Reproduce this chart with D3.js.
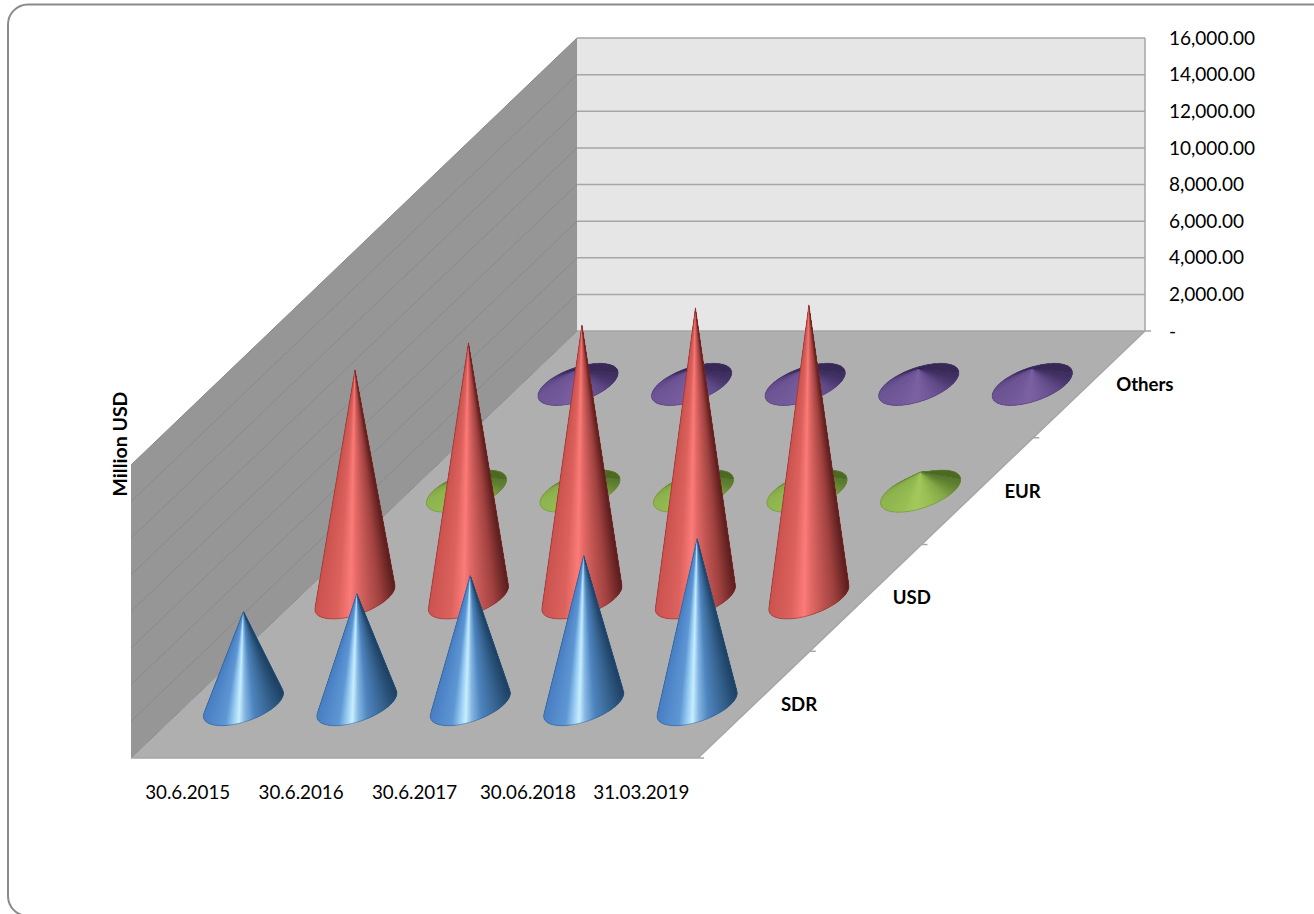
<!DOCTYPE html>
<html>
<head>
<meta charset="utf-8">
<script src="https://cdn.jsdelivr.net/npm/d3@7"></script>
<style>
  html, body { margin: 0; padding: 0; background: #fff; }
  svg { display: block; }
  text { font-family: Lato, "Open Sans", sans-serif; fill: #000; }
</style>
</head>
<body>
<div id="chart"></div>
<script>
// values, Million USD
var dates = ['30.6.2015', '30.6.2016', '30.6.2017', '30.06.2018', '31.03.2019'];
var seriesNames = ['SDR', 'USD', 'EUR', 'Others'];
var sdrValues = [5080, 6060, 7050, 8140, 9070];
var usdValues = [12450, 13930, 14900, 15840, 16000];
var eurValues = [800, 850, 900, 950, 1040];
var othersValues = [800, 820, 840, 860, 870];
var valueTicks = [0, 2000, 4000, 6000, 8000, 10000, 12000, 14000, 16000];

var seriesValues = { SDR: sdrValues, USD: usdValues, EUR: eurValues, Others: othersValues };

// colours across the front of a cone, left to right, and the dark back of the base
var rampStops = [0, 0.27, 0.37, 0.44, 0.52, 0.64, 0.82, 1];
var ramps = {
  SDR: ['#4a80c4', '#5f97d4', '#98cdf2', '#c8eeff', '#84b6e2', '#4f85bf', '#386693', '#1f4365'],
  USD: ['#cc5450', '#db625e', '#ef716e', '#fb7c7a', '#e56a67', '#c75a57', '#a04240', '#5c1f1e'],
  EUR: ['#8fb54f', '#99bf55', '#a0c65a', '#a3c95c', '#9fc55a', '#97bd53', '#84a848', '#5a7a2e'],
  Others: ['#6e5695', '#755c9c', '#7a5fa0', '#7c61a2', '#7a5fa0', '#71599a', '#614a88', '#3f2f60']
};
var backColors = { SDR: '#1f4365', USD: '#5c1f1e', EUR: '#4d6b25', Others: '#3a2b58' };
var lines = { SDR: '#2c5a8c', USD: '#8c2d2b', EUR: '#6b8a38', Others: '#4f3d75' };

var width = 1314, height = 914;
var floorLeft = 131, floorFront = 758, floorBack = 331, wallTop = 38;
var depthShift = 446, frontWidth = 567, backWidth = 568;

var svg = d3.select('#chart').append('svg')
  .attr('width', width)
  .attr('height', height);

var xScale = d3.scaleBand().domain(dates).range([0, 1]);
var depthScale = d3.scaleBand().domain(seriesNames).range([0, 1]);
var yScale = d3.scaleLinear().domain([0, 16000]).range([0, floorBack - wallTop]);

// oblique projection: xf along the dates, df into the depth, v up the value axis
function project(xf, df, v) {
  var w = frontWidth + (backWidth - frontWidth) * df;
  return [
    floorLeft + df * depthShift + xf * w,
    floorFront - df * (floorFront - floorBack) - yScale(v || 0)
  ];
}
function poly(pts) { return 'M' + pts.map(function (p) { return p.join(','); }).join('L') + 'Z'; }

// chart frame
svg.append('rect')
  .attr('x', 8).attr('y', 4.5)
  .attr('width', 1400).attr('height', 911.5)
  .attr('rx', 20).attr('ry', 20)
  .attr('fill', '#fff')
  .attr('stroke', '#8a8a8a')
  .attr('stroke-width', 2);

// walls and floor
svg.append('path').attr('fill', '#e6e6e6')
  .attr('d', poly([project(0, 1, 0), project(1, 1, 0), project(1, 1, 16000), project(0, 1, 16000)]));
svg.append('path').attr('fill', '#969696')
  .attr('d', poly([project(0, 0, 0), project(0, 1, 0), project(0, 1, 16000), project(0, 0, 16000)]));
svg.append('path').attr('fill', '#afafaf')
  .attr('d', poly([project(0, 0, 0), project(1, 0, 0), project(1, 1, 0), project(0, 1, 0)]));

// gridlines
var grid = svg.append('g');
function gridLine(pts, color, w) {
  grid.append('path').attr('fill', 'none').attr('stroke', color).attr('stroke-width', w)
    .attr('d', d3.line()(pts));
}
valueTicks.forEach(function (t) {
  gridLine([project(0, 1, t), project(1, 1, t)], '#a6a6a6', 1.5);
  gridLine([project(0, 0, t), project(0, 1, t)], '#8a8a8a', 1);
});
gridLine([project(1, 1, 0), project(1, 1, 16000)], '#a6a6a6', 1.5);
gridLine([project(0, 0, 0), project(1, 0, 0), project(1, 1, 0)], '#a6a6a6', 1.5);
d3.range(seriesNames.length + 1).forEach(function (i) {
  var p = project(1, i / seriesNames.length, 0);
  gridLine([p, [p[0] + 6, p[1]]], '#a6a6a6', 1.5);
});

// one cone: fan of thin facets from the tip to the base ellipse
function drawCone(g, s, i) {
  var bw = xScale.bandwidth(), bd = depthScale.bandwidth();
  var xc = xScale(dates[i]) + bw / 2, dc = depthScale(s) + bd / 2;
  var rx = bw * 0.295, rd = bd * 0.197;
  var center = project(xc, dc, 0);
  var tip = project(xc, dc, seriesValues[s][i]);
  var ax = project(xc + rx, dc, 0), bx = project(xc, dc + rd, 0);
  var a = [ax[0] - center[0], ax[1] - center[1]], b = [bx[0] - center[0], bx[1] - center[1]];
  var basePoint = function (t) {
    return [center[0] + Math.cos(t) * a[0] + Math.sin(t) * b[0],
            center[1] + Math.cos(t) * a[1] + Math.sin(t) * b[1]];
  };
  var t0 = Math.atan2(b[0], a[0]);            // rightmost point of the base
  var halfW = Math.sqrt(a[0] * a[0] + b[0] * b[0]);
  var front = d3.scaleLinear().domain(rampStops).range(ramps[s]).clamp(true);
  var back = d3.scaleLinear().domain([0, 0.62, 0.8, 1]).range([backColors[s], backColors[s], ramps[s][6], ramps[s][0]]);
  var n = 240, facets = [];
  d3.range(n).forEach(function (k) {
    var isBack = k < n / 2;
    var last = isBack ? n / 2 : n;
    // each facet overlaps the next ones so the seams stay hidden
    var t = t0 + k / n * 2 * Math.PI, t2 = t0 + Math.min(k + 4, last) / n * 2 * Math.PI;
    var mid = basePoint(t + Math.PI / n);
    var color = isBack ? back(k / (n / 2)) : front((mid[0] - center[0] + halfW) / (2 * halfW));
    facets.push({ pts: [tip].concat(d3.range(5).map(function (j) { return basePoint(t + (t2 - t) * j / 4); })), color: color });
  });
  g.append('g').selectAll('path')
    .data(facets)
    .join('path')
    .attr('d', function (f) { return poly(f.pts); })
    .attr('fill', function (f) { return f.color; });
  var hull = d3.polygonHull(d3.range(n).map(function (k) { return basePoint(k / n * 2 * Math.PI); }).concat([tip]));
  g.append('path').attr('d', poly(hull)).attr('fill', 'none')
    .attr('stroke', lines[s]).attr('stroke-width', 0.8).attr('stroke-opacity', 0.7);
}

var marks = svg.append('g');
seriesNames.slice().reverse().forEach(function (s) {
  dates.forEach(function (d, i) { drawCone(marks.append('g'), s, i); });
});

// labels
svg.append('g').selectAll('text').data(dates).join('text')
  .attr('x', function (d) { return project(xScale(d) + xScale.bandwidth() / 2, 0, 0)[0]; })
  .attr('y', 792)
  .attr('dy', '0.35em')
  .attr('text-anchor', 'middle')
  .style('font-size', '18.8px')
  .text(function (d) { return d; });

svg.append('g').selectAll('text').data(seriesNames).join('text')
  .attr('x', function (s) { return project(1, depthScale(s) + depthScale.bandwidth() / 2, 0)[0] + 27; })
  .attr('y', function (s) { return project(1, depthScale(s) + depthScale.bandwidth() / 2, 0)[1]; })
  .attr('dy', '0.35em')
  .style('font-size', '18.6px')
  .style('font-weight', 'bold')
  .text(function (s) { return s; });

svg.append('g').selectAll('text').data(valueTicks).join('text')
  .attr('x', 1169)
  .attr('y', function (t) { return project(1, 1, t)[1]; })
  .attr('dy', '0.35em')
  .style('font-size', '19px')
  .text(function (t) { return t === 0 ? '-' : d3.format(',.2f')(t); });

svg.append('text')
  .attr('transform', 'translate(120.5,444) rotate(-90)')
  .attr('dy', '0.35em')
  .attr('text-anchor', 'middle')
  .style('font-size', '19.5px')
  .style('font-weight', 'bold')
  .text('Million USD');
</script>
</body>
</html>
